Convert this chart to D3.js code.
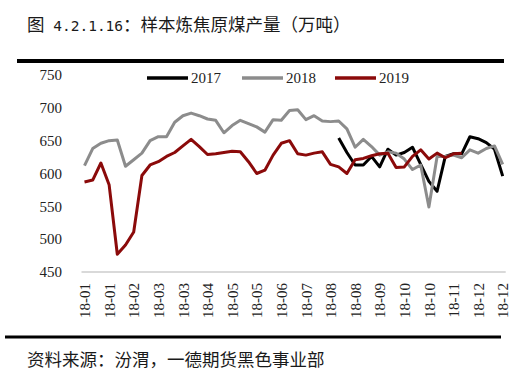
<!DOCTYPE html>
<html>
<head>
<meta charset="utf-8">
<script src="https://cdn.jsdelivr.net/npm/d3@7"></script>
<style>
  body { margin: 0; background: #fff; }
  svg { display: block; }
</style>
</head>
<body>
<div id="viz"></div>
<script>
/* weekly coking coal output, 52 weeks per year */

var xLabels = ['18-01', '18-01', '18-02', '18-03', '18-03', '18-04', '18-05', '18-05', '18-06',
               '18-07', '18-08', '18-08', '18-09', '18-10', '18-10', '18-11', '18-12', '18-12'];

var yTicks = [450, 500, 550, 600, 650, 700, 750];

var seriesNames = ['2017', '2018', '2019'];
var seriesColors = ['#000000', '#8c8c8c', '#8b0a0a'];

// 2017 only starts in week 32
var data2017 = [null, null, null, null, null, null, null, null, null, null,
                null, null, null, null, null, null, null, null, null, null,
                null, null, null, null, null, null, null, null, null, null,
                null, 654, 632, 613, 613, 626, 610, 637, 628, 632,
                640, 614, 588, 573, 626, 630, 630, 656, 653, 647,
                637, 596];

var data2018 = [612, 638, 646, 650, 651, 611, 621, 631, 650, 656,
                656, 678, 688, 692, 688, 683, 681, 662, 673, 681,
                676, 671, 663, 682, 681, 696, 697, 682, 688, 680,
                679, 680, 668, 640, 652, 641, 628, 633, 631, 622,
                606, 613, 549, 626, 626, 628, 624, 636, 631, 638,
                642, 614];

var data2019 = [587, 590, 616, 583, 477, 491, 511, 597, 613, 618,
                626, 632, 642, 652, 641, 629, 630, 632, 634, 633,
                618, 600, 605, 628, 646, 650, 630, 628, 631, 633,
                614, 610, 600, 621, 623, 627, 630, 631, 609, 610,
                626, 636, 622, 631, 624, 630, 631];

var width = 532,
    height = 385,
    nWeeks = 52;

var svg = d3.select('#viz').append('svg')
    .attr('width', width)
    .attr('height', height);

var cjk = '"Noto Sans CJK SC", "Noto Sans", sans-serif',
    mono = '"DejaVu Sans Mono", monospace',
    serif = '"Liberation Serif", "DejaVu Serif", serif';

// title + rules
var title = svg.append('text')
    .attr('x', 27)
    .attr('y', 31)
    .attr('font-family', cjk)
    .attr('font-size', 17.5)
    .attr('fill', '#1a1a1a');
title.append('tspan').text('图');
title.append('tspan')
    .attr('font-family', mono)
    .attr('font-size', 14.5)
    .attr('xml:space', 'preserve')
    .style('white-space', 'pre')
    .text(' 4.2.1.16');
title.append('tspan').text('：样本炼焦原煤产量（万吨）');

svg.append('line')
    .attr('x1', 17).attr('x2', 504)
    .attr('y1', 61).attr('y2', 61)
    .attr('stroke', '#000')
    .attr('stroke-width', 4);

svg.append('line')
    .attr('x1', 5).attr('x2', 501)
    .attr('y1', 337).attr('y2', 337)
    .attr('stroke', '#000')
    .attr('stroke-width', 3);

svg.append('text')
    .attr('x', 27)
    .attr('y', 366)
    .attr('font-family', cjk)
    .attr('font-size', 17.5)
    .attr('fill', '#1a1a1a')
    .text('资料来源：汾渭，一德期货黑色事业部');

// scales
var x = d3.scalePoint()
    .domain(d3.range(nWeeks))
    .range([84.5, 502.7]);

var y = d3.scaleLinear()
    .domain([450, 750])
    .range([272, 75]);

// y axis, labels only
var yGuide = svg.append('g')
    .attr('transform', 'translate(66,0)')
    .call(d3.axisLeft(y).tickValues(yTicks).tickSize(0).tickPadding(4));
yGuide.select('.domain').remove();
yGuide.selectAll('text')
    .attr('font-family', serif)
    .attr('font-size', 15)
    .attr('fill', '#222');

// x axis
svg.append('line')
    .attr('x1', x(0) - 3).attr('x2', x(nWeeks - 1) + 3)
    .attr('y1', y(450)).attr('y2', y(450))
    .attr('stroke', '#d9d9d9')
    .attr('stroke-width', 2);

var xGuide = svg.append('g')
    .attr('transform', 'translate(0,' + y(450) + ')')
    .call(d3.axisBottom(x)
      .tickValues(d3.range(0, nWeeks, 3))
      .tickFormat(function(d) { return xLabels[d / 3]; })
      .tickSize(0));
xGuide.select('.domain').remove();
xGuide.selectAll('text')
    .attr('font-family', serif)
    .attr('font-size', 15)
    .attr('fill', '#222')
    .attr('text-anchor', 'end')
    .attr('dy', '0.35em')
    .attr('transform', 'translate(0,11) rotate(-90)')
    .attr('x', 0)
    .attr('y', 0);

// lines
var line = d3.line()
    .defined(function(d) { return d != null; })
    .x(function(d, i) { return x(i); })
    .y(function(d) { return y(d); });

[data2017, data2018, data2019].forEach(function(s, k) {
  svg.append('path')
    .datum(s)
    .attr('fill', 'none')
    .attr('stroke', seriesColors[k])
    .attr('stroke-width', 3)
    .attr('stroke-linejoin', 'round')
    .attr('d', line);
});

// legend
var legendX = [147, 242, 335];
var legend = svg.append('g')
    .selectAll('g')
    .data(seriesNames)
    .enter().append('g')
    .attr('transform', function(d, i) {
      return 'translate(' + legendX[i] + ',78)';
    });

legend.append('line')
    .attr('x1', 0).attr('x2', 41)
    .attr('stroke', function(d, i) { return seriesColors[i]; })
    .attr('stroke-width', 3.5);

legend.append('text')
    .attr('x', 44)
    .attr('dy', '0.35em')
    .attr('font-family', serif)
    .attr('font-size', 15)
    .attr('fill', '#222')
    .text(function(d) { return d; });
</script>
</body>
</html>
